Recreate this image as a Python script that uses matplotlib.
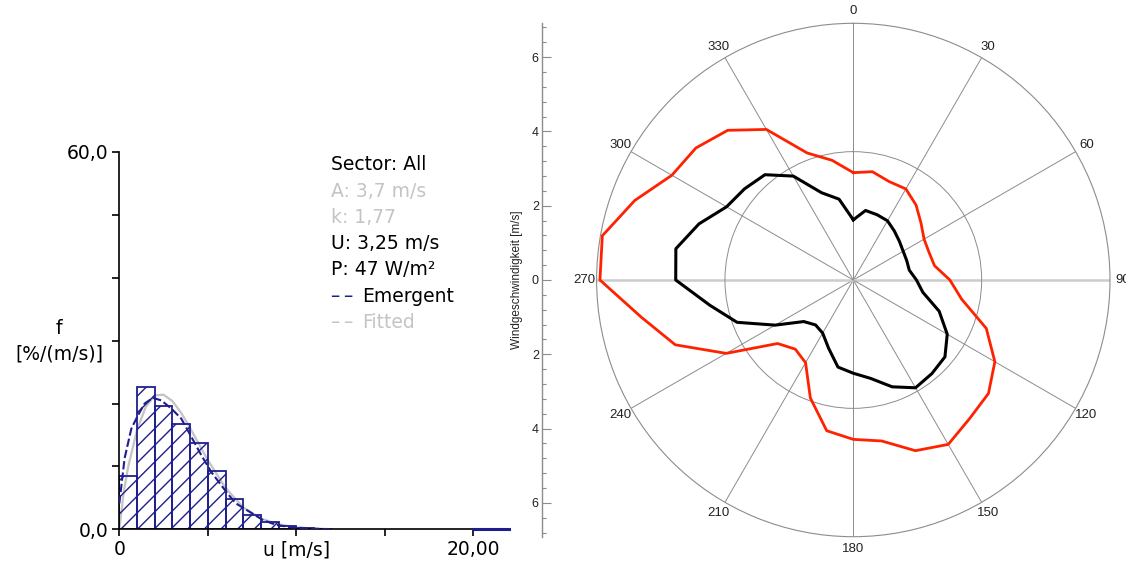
import numpy as np
import matplotlib
matplotlib.use("Agg")
import matplotlib.pyplot as plt
from matplotlib.ticker import MultipleLocator

# ---------------- data: histogram (left) ----------------
bin_left = [0, 1, 2, 3, 4, 5, 6, 7, 8, 9, 10, 11]
bar_freq = [8.5, 22.7, 19.6, 16.7, 13.8, 9.3, 4.8, 2.3, 1.1, 0.5, 0.25, 0.12]

emergent_u = [0.0, 0.3, 0.68, 1.05, 1.43, 1.9, 2.37, 2.94, 3.5, 4.07, 4.63, 5.2,
              5.76, 6.2, 6.6, 7.35, 8.1, 8.85, 9.8, 11.0, 12.0]
emergent_f = [4.1, 11.3, 16.0, 18.1, 20.0, 20.9, 20.5, 19.2, 17.6, 14.7, 11.8, 9.1,
              7.0, 5.4, 4.1, 2.8, 1.5, 0.7, 0.3, 0.1, 0.0]
emergent_tail_u = [20.0, 22.0]
emergent_tail_f = [0.0, 0.0]

fitted_u = [0.0, 0.25, 0.5, 1.0, 1.5, 2.0, 2.5, 3.0, 3.5, 4.0, 5.0, 6.0, 7.0,
            8.0, 9.0, 10.0, 11.0, 12.0]
fitted_f = [0.0, 5.9, 9.9, 15.8, 19.5, 21.3, 21.4, 20.4, 18.5, 16.1, 11.0, 6.6,
            3.5, 1.7, 0.8, 0.3, 0.1, 0.03]

hist_yticks = [0, 10, 20, 30, 40, 50, 60]
hist_ylabels = ["0,0", "", "", "", "", "", "60,0"]
hist_xticks = [0, 5, 10, 15, 20]
hist_xlabels = ["0", "", "u [m/s]", "", "20,00"]

legend_lines = ["Sector: All", "A: 3,7 m/s", "k: 1,77", "U: 3,25 m/s",
                "P: 47 W/m\u00b2", "Emergent", "Fitted"]
legend_dash = "\u2013\u2009\u2013"

# ---------------- data: polar (right) ----------------
directions = [0, 10, 20, 30, 40, 50, 60, 70, 80, 90, 100, 110, 120, 130, 140, 150,
              160, 170, 180, 190, 200, 210, 220, 230, 240, 250, 260, 270, 280, 290,
              300, 310, 320, 330, 340, 350]
red_speed = [2.89, 2.96, 2.82, 2.83, 2.63, 2.38, 2.20, 2.17, 2.22, 2.60, 2.96, 3.81,
             4.40, 4.75, 4.87, 5.11, 4.89, 4.40, 4.29, 4.12, 3.38, 2.57, 2.43, 2.66,
             3.95, 5.10, 5.79, 6.82, 6.86, 6.26, 5.64, 5.53, 5.26, 4.68, 3.64, 3.27]
black_speed = [1.62, 1.90, 1.87, 1.84, 1.72, 1.62, 1.55, 1.53, 1.53, 1.70, 1.90, 2.46,
               2.92, 3.22, 3.29, 3.35, 3.06, 2.69, 2.51, 2.38, 1.95, 1.65, 1.58, 1.74,
               2.43, 3.33, 3.92, 4.78, 4.85, 4.42, 3.94, 3.82, 3.70, 3.23, 2.50, 2.21]
theta_ticks = [0, 30, 60, 90, 120, 150, 180, 210, 240, 270, 300, 330]
theta_labels = ["0", "30", "60", "90", "120", "150", "180", "210", "240", "270", "300", "330"]
r_max = 6.91
r_inner = 3.455
speed_ticks = [-6, -4, -2, 0, 2, 4, 6]
speed_labels = ["6", "4", "2", "0", "2", "4", "6"]

navy = "#1e1e8e"
lgrey = "#c4c4c4"
plt.rcParams["hatch.color"] = navy
plt.rcParams["hatch.linewidth"] = 1.0
plt.rcParams["font.family"] = ["DejaVu Sans"]

W, H = 1126, 568
fig = plt.figure(figsize=(W / 100, H / 100), dpi=100)

# ---------------- histogram ----------------
x0, y0 = 119.3, 529.3
ax = fig.add_axes([x0 / W, (H - y0) / H, 389.4 / W, 377.3 / H])
ax.plot(fitted_u, fitted_f, color=lgrey, lw=1.6, zorder=1)
ax.bar(bin_left, bar_freq, width=1.0, align="edge", facecolor="none",
       edgecolor=navy, hatch="//", lw=1.3, zorder=2)
ax.plot(emergent_u, emergent_f, color=navy, lw=1.5, ls=(0, (4, 1.5)), zorder=3)
ax.plot(emergent_tail_u, emergent_tail_f, color=navy, lw=2.2, zorder=4, clip_on=False)
ax.set_xlim(0, 22)
ax.set_ylim(0, 60)
ax.spines["top"].set_visible(False)
ax.spines["right"].set_visible(False)
for s in ("left", "bottom"):
    ax.spines[s].set_linewidth(1.2)
    ax.spines[s].set_color("black")
ax.set_yticks(hist_yticks, hist_ylabels)
ax.set_xticks(hist_xticks, hist_xlabels)
ax.tick_params(axis="both", direction="out", length=5, width=1.2, color="black",
               labelsize=13.5, pad=3)
ax.patch.set_visible(False)

fig.text(58.5 / W, 1 - 328 / H, "f", ha="center", va="center", fontsize=13.5)
fig.text(59 / W, 1 - 354 / H, "[%/(m/s)]", ha="center", va="center", fontsize=13.5)

leg_colors = ["black", lgrey, lgrey, "black", "black", "black", lgrey]
for i, (txt, c) in enumerate(zip(legend_lines, leg_colors)):
    yy = 1 - (165 + 26.2 * i) / H
    if i >= 5:
        fig.text(331 / W, yy, legend_dash, ha="left", va="center", fontsize=13.5,
                 color=navy if i == 5 else lgrey)
        fig.text(361.7 / W, yy, txt, ha="left", va="center", fontsize=13.5, color=c)
    else:
        fig.text(331 / W, yy, txt, ha="left", va="center", fontsize=13.5, color=c)

# ---------------- polar ----------------
cx, cy, R = 853.3, 280.0, 256.7
pax = fig.add_axes([(cx - R) / W, (H - cy - R) / H, 2 * R / W, 2 * R / H],
                   projection="polar")
pax.set_theta_zero_location("N")
pax.set_theta_direction(-1)
th = np.deg2rad(directions + [directions[0]])
pax.plot(th, red_speed + [red_speed[0]], color="#ff2200", lw=2.0, zorder=3)
pax.plot(th, black_speed + [black_speed[0]], color="black", lw=2.2, zorder=4)
pax.set_ylim(0, r_max)
pax.set_yticks([r_inner])
pax.set_yticklabels([])
pax.set_thetagrids(theta_ticks, labels=theta_labels)
pax.tick_params(axis="x", labelsize=9.5, pad=-1.5, colors="#222222")
for lab in pax.get_xticklabels():
    lab.set_fontfamily("Liberation Sans")
pax.grid(True, color="#8c8c8c", lw=0.7)
xgl = pax.xaxis.get_gridlines()
for idx in (3, 9):
    xgl[idx].set_color("#cccccc")
    xgl[idx].set_linewidth(1.8)
pax.spines["polar"].set_color("#8c8c8c")
pax.spines["polar"].set_linewidth(0.8)

# left speed axis
sax = fig.add_axes([542.3 / W, (H - cy - R) / H, 0.0005, 2 * R / H])
sax.set_ylim(-r_max, r_max)
sax.patch.set_visible(False)
for s in ("top", "right", "bottom"):
    sax.spines[s].set_visible(False)
sax.spines["left"].set_color("#8c8c8c")
sax.spines["left"].set_linewidth(1.0)
sax.set_xticks([])
sax.set_yticks(speed_ticks, speed_labels)
sax.yaxis.set_minor_locator(MultipleLocator(0.4))
sax.tick_params(axis="y", which="major", direction="in", length=6.5, width=0.8,
                color="#8c8c8c", labelsize=9, pad=2.5, labelcolor="#222222")
sax.tick_params(axis="y", which="minor", direction="in", length=3.2, width=0.8,
                color="#8c8c8c")
for lab in sax.get_yticklabels():
    lab.set_fontfamily("Liberation Sans")
sax.set_ylabel("Windgeschwindigkeit [m/s]", fontsize=8.5, labelpad=6,
               family="Liberation Sans", color="#222222")

fig.savefig("out.png", dpi=100)
